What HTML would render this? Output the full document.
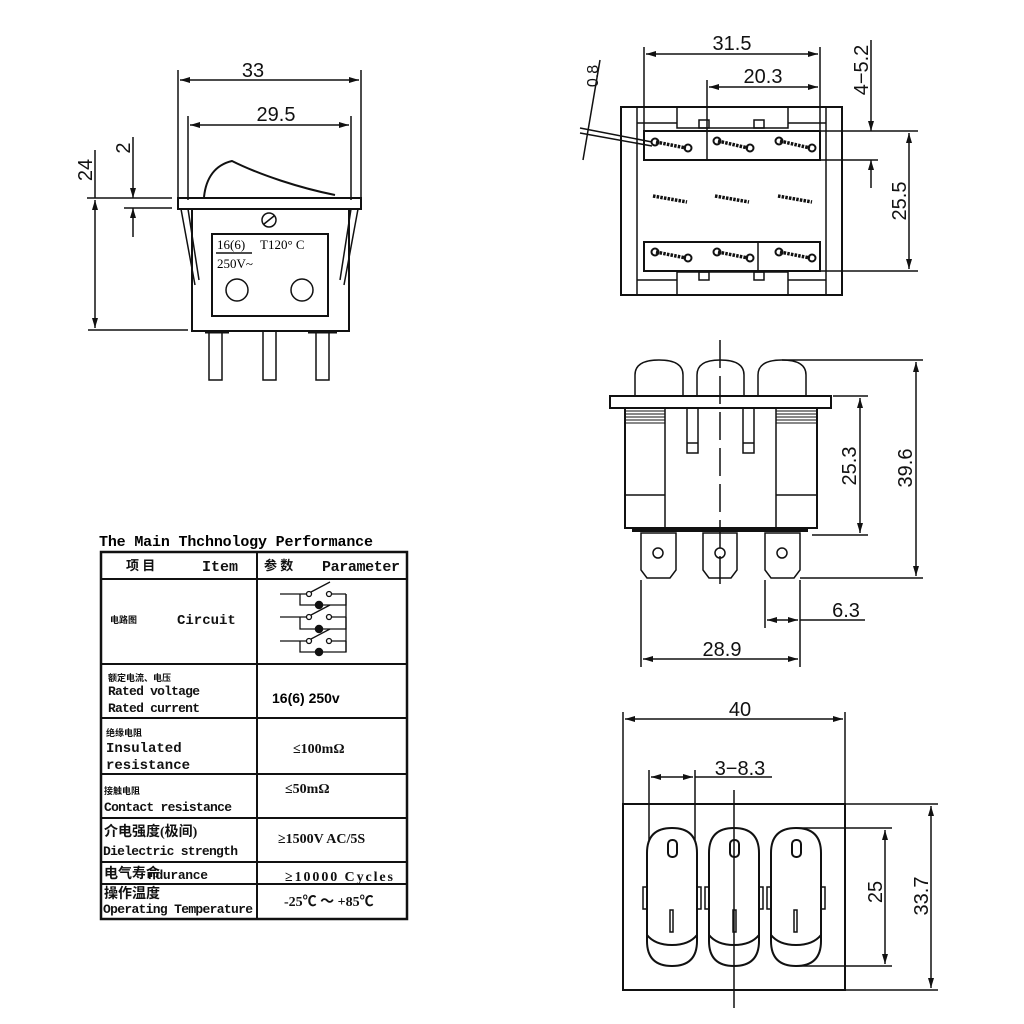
<!DOCTYPE html>
<html><head><meta charset="utf-8"><style>
html,body{margin:0;padding:0;background:#fff;}
svg{display:block}
.d{font-family:"Liberation Sans",sans-serif;font-size:20px;fill:#111}
.m{font-family:"Liberation Mono","Noto Serif CJK SC",monospace;font-size:13px;fill:#111;font-weight:bold}
.c{font-family:"Liberation Serif","Noto Sans CJK SC",serif;font-size:12px;fill:#111;font-weight:bold}
.v{font-family:"Liberation Serif","Noto Sans CJK SC",serif;font-size:14px;font-weight:bold;fill:#111}
</style></head><body>
<svg width="1024" height="1024" viewBox="0 0 1024 1024" xmlns="http://www.w3.org/2000/svg">
<defs>
<marker id="a" viewBox="0 0 10 6" refX="10" refY="3" markerWidth="10" markerHeight="6" orient="auto-start-reverse" markerUnits="userSpaceOnUse"><path d="M0,0 L10,3 L0,6 z" fill="#111"/></marker>
</defs>
<g stroke="#111" stroke-width="1.5" fill="none">
<!-- TOP LEFT VIEW -->
<line x1="178" y1="70" x2="178" y2="200"/><line x1="361" y1="70" x2="361" y2="200"/>
<line x1="180" y1="80" x2="359" y2="80" marker-start="url(#a)" marker-end="url(#a)"/>
<line x1="188" y1="116" x2="188" y2="200"/><line x1="351" y1="116" x2="351" y2="200"/>
<line x1="190" y1="125" x2="349" y2="125" marker-start="url(#a)" marker-end="url(#a)"/>
<rect x="178" y="198" width="183" height="11" stroke-width="2"/>
<path d="M204,197 C206,178 215,165 232,161 C260,175 300,188 335,195" stroke-width="2"/>
<rect x="192" y="209" width="157" height="122" stroke-width="2"/>
<path d="M181,209 L195,285 M188,209 L199,280 M358,209 L344,285 M351,209 L340,280"/>
<rect x="212" y="234" width="116" height="82" stroke-width="2"/>
<circle cx="269" cy="220" r="7"/><line x1="264" y1="224" x2="274" y2="216"/>
<circle cx="237" cy="290" r="11"/><circle cx="302" cy="290" r="11"/>
<line x1="216" y1="253" x2="252" y2="253"/>
<rect x="209" y="331" width="13" height="49"/><rect x="263" y="331" width="13" height="49"/><rect x="316" y="331" width="13" height="49"/>
<line x1="205" y1="332" x2="229" y2="332" stroke-width="3"/><line x1="308" y1="332" x2="337" y2="332" stroke-width="3"/>
<line x1="87" y1="198" x2="172" y2="198"/><line x1="124" y1="208" x2="172" y2="208"/>
<line x1="133" y1="137" x2="133" y2="198" marker-end="url(#a)"/><line x1="133" y1="237" x2="133" y2="208" marker-end="url(#a)"/>
<line x1="88" y1="330" x2="188" y2="330"/>
<line x1="95" y1="150" x2="95" y2="198"/>
<line x1="95" y1="200" x2="95" y2="328" marker-start="url(#a)" marker-end="url(#a)"/>

<!-- TOP RIGHT VIEW -->
<rect x="621" y="107" width="221" height="188" stroke-width="2"/>
<line x1="637" y1="107" x2="637" y2="295"/><line x1="826" y1="107" x2="826" y2="295"/>
<path d="M677,107 V128 H788 V107 M637,123 H677 M788,123 H826"/>
<rect x="699" y="120" width="10" height="8"/><rect x="754" y="120" width="10" height="8"/>
<path d="M677,295 V272 H788 V295 M637,280 H677 M788,280 H826"/>
<rect x="699" y="272" width="10" height="8"/><rect x="754" y="272" width="10" height="8"/>
<rect x="644" y="131" width="176" height="29" stroke-width="2"/><line x1="707" y1="131" x2="707" y2="160"/>
<rect x="644" y="242" width="176" height="29" stroke-width="2"/><line x1="758" y1="242" x2="758" y2="271"/>
<g stroke-width="3.5" stroke-dasharray="2.5 1.2">
<line x1="656" y1="142" x2="686" y2="148"/><line x1="718" y1="141" x2="748" y2="148"/><line x1="780" y1="141" x2="810" y2="148"/>
<line x1="653" y1="196" x2="687" y2="202"/><line x1="715" y1="196" x2="749" y2="202"/><line x1="778" y1="196" x2="812" y2="202"/>
<line x1="656" y1="252" x2="686" y2="258"/><line x1="718" y1="252" x2="748" y2="258"/><line x1="780" y1="252" x2="810" y2="258"/>
</g>
<g stroke-width="2">
<circle cx="655" cy="142" r="3.5"/><circle cx="688" cy="148" r="3.5"/><circle cx="717" cy="141" r="3.5"/><circle cx="750" cy="148" r="3.5"/><circle cx="779" cy="141" r="3.5"/><circle cx="812" cy="148" r="3.5"/>
<circle cx="655" cy="252" r="3.5"/><circle cx="688" cy="258" r="3.5"/><circle cx="717" cy="252" r="3.5"/><circle cx="750" cy="258" r="3.5"/><circle cx="779" cy="252" r="3.5"/><circle cx="812" cy="258" r="3.5"/>
</g>
<line x1="644" y1="47" x2="644" y2="130"/><line x1="820" y1="47" x2="820" y2="130"/>
<line x1="646" y1="54" x2="818" y2="54" marker-start="url(#a)" marker-end="url(#a)"/>
<line x1="707" y1="80" x2="707" y2="130"/>
<line x1="709" y1="87" x2="818" y2="87" marker-start="url(#a)" marker-end="url(#a)"/>
<line x1="820" y1="131" x2="918" y2="131"/><line x1="820" y1="271" x2="918" y2="271"/>
<line x1="909" y1="133" x2="909" y2="269" marker-start="url(#a)" marker-end="url(#a)"/>
<line x1="820" y1="160" x2="878" y2="160"/>
<line x1="871" y1="40" x2="871" y2="131" marker-end="url(#a)"/><line x1="871" y1="188" x2="871" y2="160" marker-end="url(#a)"/>
<line x1="580" y1="128" x2="652" y2="142"/><line x1="580" y1="133" x2="652" y2="146"/>
<line x1="600" y1="60" x2="583" y2="160"/>

<!-- MIDDLE RIGHT VIEW -->
<path d="M635,396 V375 Q635,360 659,360 Q683,360 683,375 V396"/>
<path d="M697,396 V375 Q697,360 720,360 Q744,360 744,375 V396"/>
<path d="M758,396 V375 Q758,360 782,360 Q806,360 806,375 V396"/>
<rect x="610" y="396" width="221" height="12" stroke-width="2"/>
<rect x="625" y="408" width="192" height="120" stroke-width="2"/>
<line x1="665" y1="408" x2="665" y2="528"/><line x1="776" y1="408" x2="776" y2="528"/>
<path d="M625,411 H665 M625,414 H665 M625,417 H665 M625,420 H665 M625,423 H665 M776,411 H817 M776,414 H817 M776,417 H817 M776,420 H817 M776,423 H817" stroke-width="1"/>
<line x1="625" y1="495" x2="665" y2="495"/><line x1="776" y1="495" x2="817" y2="495"/>
<rect x="687" y="408" width="11" height="45"/><line x1="687" y1="443" x2="698" y2="443"/>
<rect x="743" y="408" width="11" height="45"/><line x1="743" y1="443" x2="754" y2="443"/>
<line x1="720" y1="340" x2="720" y2="592" stroke-dasharray="28 8"/>
<line x1="632" y1="530" x2="808" y2="530" stroke-width="4"/>
<path d="M641,533 V570 L647,578 H670 L676,570 V533 Z"/><circle cx="658" cy="553" r="5"/>
<path d="M703,533 V570 L709,578 H731 L737,570 V533 Z"/><circle cx="720" cy="553" r="5"/>
<path d="M765,533 V570 L771,578 H794 L800,570 V533 Z"/><circle cx="782" cy="553" r="5"/>
<line x1="782" y1="360" x2="923" y2="360"/><line x1="800" y1="578" x2="923" y2="578"/>
<line x1="916" y1="362" x2="916" y2="576" marker-start="url(#a)" marker-end="url(#a)"/>
<line x1="833" y1="396" x2="868" y2="396"/><line x1="812" y1="535" x2="868" y2="535"/>
<line x1="860" y1="398" x2="860" y2="533" marker-start="url(#a)" marker-end="url(#a)"/>
<line x1="641" y1="580" x2="641" y2="667"/><line x1="800" y1="580" x2="800" y2="667"/>
<line x1="765" y1="580" x2="765" y2="628"/>
<line x1="767" y1="620" x2="798" y2="620" marker-start="url(#a)" marker-end="url(#a)"/>
<line x1="800" y1="620" x2="865" y2="620"/>
<line x1="643" y1="659" x2="798" y2="659" marker-start="url(#a)" marker-end="url(#a)"/>

<!-- BOTTOM RIGHT VIEW -->
<line x1="623" y1="712" x2="623" y2="804"/><line x1="845" y1="712" x2="845" y2="804"/>
<line x1="625" y1="719" x2="843" y2="719" marker-start="url(#a)" marker-end="url(#a)"/>
<rect x="623" y="804" width="222" height="186" stroke-width="2"/>
<line x1="649" y1="770" x2="649" y2="840"/><line x1="695" y1="770" x2="695" y2="840"/>
<line x1="651" y1="777" x2="693" y2="777" marker-start="url(#a)" marker-end="url(#a)"/>
<line x1="695" y1="777" x2="772" y2="777"/>
<g stroke-width="2">
<path d="M647,853 Q647,828 672,828 Q697,828 697,853 V941 Q697,966 672,966 Q647,966 647,941 Z"/>
<path d="M647,935 Q655,945 672,945 Q689,945 697,935"/>
<path d="M709,853 Q709,828 734,828 Q759,828 759,853 V941 Q759,966 734,966 Q709,966 709,941 Z"/>
<path d="M709,935 Q717,945 734,945 Q751,945 759,935"/>
<path d="M771,853 Q771,828 796,828 Q821,828 821,853 V941 Q821,966 796,966 Q771,966 771,941 Z"/>
<path d="M771,935 Q779,945 796,945 Q813,945 821,935"/>
</g>
<rect x="668" y="840" width="9" height="17" rx="4" stroke-width="2"/><rect x="730" y="840" width="9" height="17" rx="4" stroke-width="2"/><rect x="792" y="840" width="9" height="17" rx="4" stroke-width="2"/>
<rect x="670" y="910" width="3" height="22"/><rect x="733" y="910" width="3" height="22"/><rect x="794" y="910" width="3" height="22"/>
<rect x="643" y="887" width="4" height="22"/><rect x="697" y="887" width="4" height="22"/><rect x="705" y="887" width="4" height="22"/><rect x="759" y="887" width="4" height="22"/><rect x="767" y="887" width="4" height="22"/><rect x="821" y="887" width="4" height="22"/>
<line x1="734" y1="790" x2="734" y2="1008"/>
<line x1="796" y1="828" x2="892" y2="828"/><line x1="796" y1="966" x2="892" y2="966"/>
<line x1="885" y1="830" x2="885" y2="964" marker-start="url(#a)" marker-end="url(#a)"/>
<line x1="845" y1="804" x2="938" y2="804"/><line x1="845" y1="990" x2="938" y2="990"/>
<line x1="931" y1="806" x2="931" y2="988" marker-start="url(#a)" marker-end="url(#a)"/>

<!-- TABLE -->
<rect x="101" y="552" width="306" height="367" stroke-width="2.5"/>
<line x1="257" y1="552" x2="257" y2="919" stroke-width="2"/>
<g stroke-width="2">
<line x1="101" y1="579" x2="407" y2="579"/><line x1="101" y1="664" x2="407" y2="664"/>
<line x1="101" y1="718" x2="407" y2="718"/><line x1="101" y1="774" x2="407" y2="774"/>
<line x1="101" y1="818" x2="407" y2="818"/><line x1="101" y1="862" x2="407" y2="862"/>
<line x1="101" y1="884" x2="407" y2="884"/>
</g>
<g stroke-width="1.3">
<path d="M280,594 H307 M300,594 V605 H346 V594 M327,594 H346 M311,592 L330,582"/>
<path d="M280,617 H307 M300,617 V629 H346 V617 M327,617 H346 M311,615 L330,605"/>
<path d="M280,641 H307 M300,641 V652 H346 V641 M327,641 H346 M311,639 L330,629"/>
<line x1="346" y1="594" x2="346" y2="652"/>
<circle cx="309" cy="594" r="2.5" fill="#fff"/><circle cx="329" cy="594" r="2.5" fill="#fff"/>
<circle cx="309" cy="617" r="2.5" fill="#fff"/><circle cx="329" cy="617" r="2.5" fill="#fff"/>
<circle cx="309" cy="641" r="2.5" fill="#fff"/><circle cx="329" cy="641" r="2.5" fill="#fff"/>
</g>
<circle cx="319" cy="605" r="3.5" fill="#111"/><circle cx="319" cy="629" r="3.5" fill="#111"/><circle cx="319" cy="652" r="3.5" fill="#111"/>
</g>

<!-- dimension texts -->
<text class="d" x="253" y="77" text-anchor="middle">33</text>
<text class="d" x="276" y="121" text-anchor="middle">29.5</text>
<text class="d" transform="translate(130,148) rotate(-90)" text-anchor="middle">2</text>
<text class="d" transform="translate(92,170) rotate(-90)" text-anchor="middle">24</text>
<text x="217" y="249" style="font-family:'Liberation Serif',serif;font-size:13px">16(6)</text>
<text x="260" y="249" style="font-family:'Liberation Serif',serif;font-size:13px">T120° C</text>
<text x="217" y="268" style="font-family:'Liberation Serif',serif;font-size:13px">250V~</text>
<text class="d" x="732" y="50" text-anchor="middle">31.5</text>
<text class="d" x="763" y="83" text-anchor="middle">20.3</text>
<text class="d" transform="translate(868,70) rotate(-90)" text-anchor="middle">4−5.2</text>
<text class="d" transform="translate(598,76) rotate(-90)" text-anchor="middle" style="font-size:16px">0.8</text>
<text class="d" transform="translate(906,201) rotate(-90)" text-anchor="middle">25.5</text>
<text class="d" transform="translate(856,466) rotate(-90)" text-anchor="middle">25.3</text>
<text class="d" transform="translate(912,468) rotate(-90)" text-anchor="middle">39.6</text>
<text class="d" x="846" y="617" text-anchor="middle">6.3</text>
<text class="d" x="722" y="656" text-anchor="middle">28.9</text>
<text class="d" x="740" y="716" text-anchor="middle">40</text>
<text class="d" x="740" y="775" text-anchor="middle">3−8.3</text>
<text class="d" transform="translate(882,892) rotate(-90)" text-anchor="middle">25</text>
<text class="d" transform="translate(928,896) rotate(-90)" text-anchor="middle">33.7</text>

<!-- table text -->
<text x="99" y="546" style="font-family:'Liberation Mono',monospace;font-size:15px;font-weight:bold" textLength="274">The Main Thchnology Performance</text>
<text class="c" x="126" y="570" style="font-size:13px">项 目</text><text class="m" x="202" y="571" style="font-size:15px">Item</text>
<text class="c" x="264" y="570" style="font-size:13px">参 数</text><text class="m" x="322" y="571" style="font-size:15px" textLength="78">Parameter</text>
<text class="c" x="110" y="623" style="font-size:9px">电路图</text><text class="m" x="177" y="624" style="font-size:14px">Circuit</text>
<text class="c" x="108" y="681" style="font-size:9px">额定电流、电压</text>
<text class="m" x="108" y="695" textLength="92">Rated voltage</text><text class="m" x="108" y="712" textLength="92">Rated current</text>
<text x="272" y="703" style="font-family:'Liberation Sans',sans-serif;font-size:14px;font-weight:bold">16(6)  250v</text>
<text class="c" x="106" y="736" style="font-size:9px">绝缘电阻</text>
<text class="m" x="106" y="752" style="font-size:14px">Insulated</text><text class="m" x="106" y="769" style="font-size:14px">resistance</text>
<text class="v" x="293" y="753">≤100mΩ</text>
<text class="c" x="104" y="794" style="font-size:9px">接触电阻</text>
<text class="m" x="104" y="811" textLength="128">Contact resistance</text>
<text class="v" x="285" y="793">≤50mΩ</text>
<text class="c" x="104" y="836" style="font-size:14px">介电强度(极间)</text>
<text class="m" x="103" y="855" textLength="135">Dielectric strength</text>
<text class="v" x="278" y="843">≥1500V AC/5S</text>
<text class="c" x="104" y="878" style="font-size:14px">电气寿命</text><text class="m" x="148" y="879" textLength="60">ndurance</text>
<text class="v" x="285" y="881" textLength="108">≥10000  Cycles</text>
<text class="c" x="104" y="898" style="font-size:14px">操作温度</text>
<text class="m" x="103" y="913" textLength="150">Operating Temperature</text>
<text class="v" x="284" y="906">-25℃ ～ +85℃</text>
</svg>
</body></html>
